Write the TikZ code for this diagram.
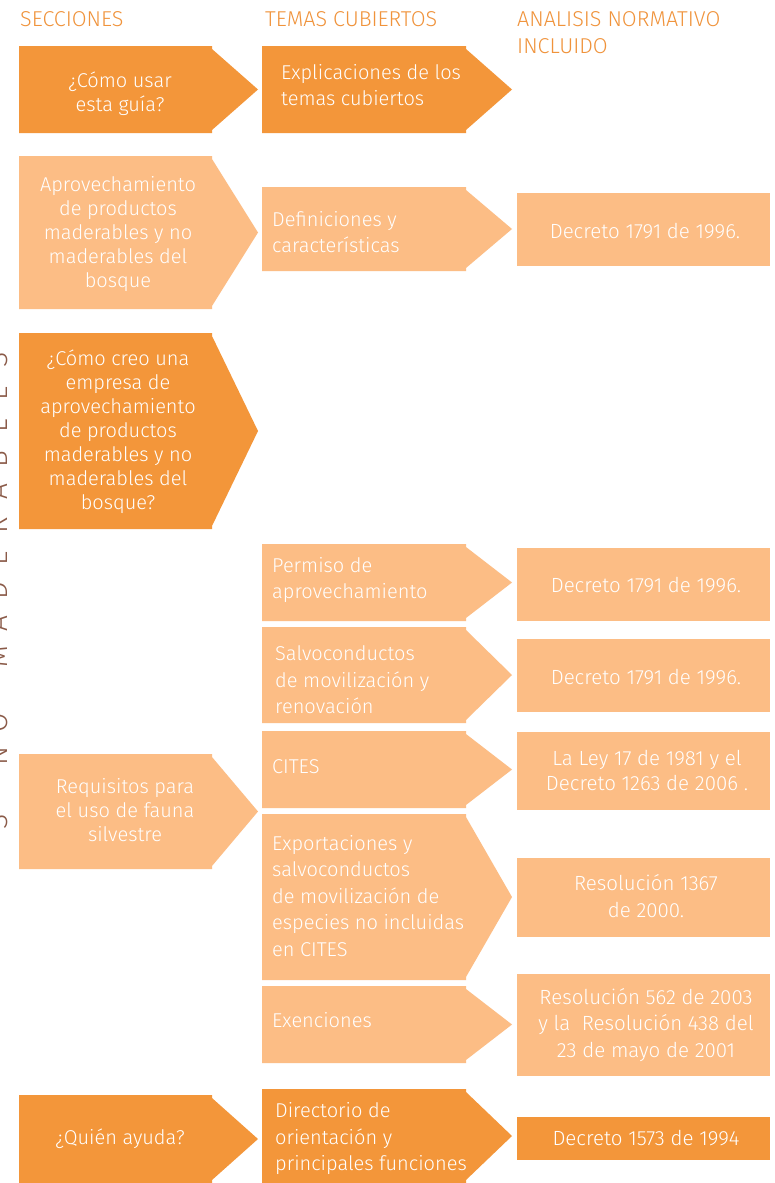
\documentclass[tikz,border=0pt]{standalone}
\usepackage{fontspec}
\setmainfont{Fira Sans Light}
\definecolor{darkor}{HTML}{F3963A}
\definecolor{lightor}{HTML}{FCBD85}
\definecolor{heador}{HTML}{F0933B}
\definecolor{vbrown}{HTML}{8A5A48}
\newcommand{\chevbox}[6]{\fill[#6] (#1,#2) -- (#3,#2) -- (#3,#2+3) -- (#5,{(#2+#4)/2}) -- (#3,#4-3) -- (#3,#4) -- (#1,#4) -- cycle;}
\tikzset{
  head/.style={text=heador, font=\fontsize{21.5}{27}\selectfont, anchor=base west, inner sep=0},
  ctxt/.style={text=white, font=\fontsize{20}{24}\selectfont, align=center, inner sep=0},
  ltxt/.style={text=white, font=\fontsize{20}{26.5}\selectfont, align=left, anchor=west, inner sep=0},
  rbox/.style={inner sep=0, text=white, font=\fontsize{20.5}{26}\selectfont, align=center},
  vlet/.style={text=vbrown, font=\fontsize{28}{28}\selectfont, rotate=90, anchor=base, inner sep=0}
}
\begin{document}
\begin{tikzpicture}[x=1pt,y=-1pt]
\useasboundingbox (0,0) rectangle (774,1183);
\fill[white] (0,0) rectangle (774,1183);
% headers
\node[head] (h1) at (20,26) {SECCIONES};
\node[head] (h2) at (265,26) {TEMAS CUBIERTOS};
\node[head] (h3) at (517,26) {ANALISIS NORMATIVO};
\node[head] (h3b) at (517,53) {INCLUIDO};
% vertical cropped text
\begin{scope}
\clip (0,340) rectangle (12,832);
\foreach \ch/\yy in {S/822,N/756,O/723,M/657,A/624,D/591,E/558,R/525,A/492,B/459,L/426,E/393,S/360}{
  \node[vlet] (v\yy) at (7.5,\yy) {\ch};
}
\end{scope}
% column 1
\chevbox{19}{46}{212}{133}{258}{darkor}
\chevbox{19}{156}{212}{309}{258}{lightor}
\chevbox{19}{333}{212}{529}{258}{darkor}
\chevbox{19}{754}{212}{869}{258}{lightor}
\chevbox{19}{1095}{212}{1183}{258}{darkor}
\node[ctxt] (a1) at (120,94) {¿Cómo usar\\esta guía?};
\node[ctxt] (a2) at (118,234) {Aprovechamiento\\de productos\\maderables y no\\maderables del\\bosque};
\node[ctxt] (a3) at (118,432) {¿Cómo creo una\\empresa de\\aprovechamiento\\de productos\\maderables y no\\maderables del\\bosque?};
\node[ctxt] (a4) at (125,810) {Requisitos para\\el uso de fauna\\silvestre};
\node[ctxt] (a5) at (120,1139) {¿Quién ayuda?};
% column 2
\chevbox{262}{46}{466}{133}{512}{darkor}
\chevbox{262}{187}{466}{271}{512}{lightor}
\chevbox{262}{544}{466}{621}{512}{lightor}
\chevbox{262}{627}{466}{723}{512}{lightor}
\chevbox{262}{731}{466}{808}{512}{lightor}
\chevbox{262}{814}{466}{980}{512}{lightor}
\chevbox{262}{986}{466}{1063}{512}{lightor}
\chevbox{262}{1089}{466}{1183}{512}{darkor}
\node[ltxt] (b1) at (281,85) {Explicaciones de los\\temas cubiertos};
\node[ltxt] (b2) at (272,232) {Definiciones y\\características};
\node[ltxt] (b3) at (272,580) {Permiso de\\aprovechamiento};
\node[ltxt] (b4) at (275,680) {Salvoconductos\\de movilización y\\renovación};
\node[ltxt] (b5) at (272,767) {CITES};
\node[ltxt] (b6) at (272,896) {Exportaciones y\\salvoconductos\\de movilización de\\especies no incluidas\\en CITES};
\node[ltxt] (b7) at (272,1020) {Exenciones};
\node[ltxt] (b8) at (275,1139) {Directorio de\\orientación y\\principales funciones};
% column 3
\fill[lightor] (517,193) rectangle (770,266);
\fill[lightor] (517,548) rectangle (770,621);
\fill[lightor] (517,639) rectangle (770,712);
\fill[lightor] (517,732) rectangle (770,810);
\fill[lightor] (517,858) rectangle (770,937);
\fill[lightor] (517,974) rectangle (770,1076);
\fill[darkor] (517,1117) rectangle (770,1160);
\node[rbox] (c1) at (645,231) {Decreto 1791 de 1996.};
\node[rbox] (c2) at (646,585) {Decreto 1791 de 1996.};
\node[rbox] (c3) at (646,677) {Decreto 1791 de 1996.};
\node[rbox, font=\fontsize{20.5}{25}\selectfont] (c4) at (647,770) {La Ley 17 de 1981 y el\\Decreto 1263 de 2006 .};
\node[rbox, font=\fontsize{20.5}{27}\selectfont] (c5) at (646,896) {Resolución 1367\\de 2000.};
\node[rbox, font=\fontsize{20.5}{26.5}\selectfont] (c6) at (646,1025) {Resolución 562 de 2003\\y la~ Resolución 438 del\\23 de mayo de 2001};
\node[rbox] (c7) at (646,1138) {Decreto 1573 de 1994};
\end{tikzpicture}
\end{document}
